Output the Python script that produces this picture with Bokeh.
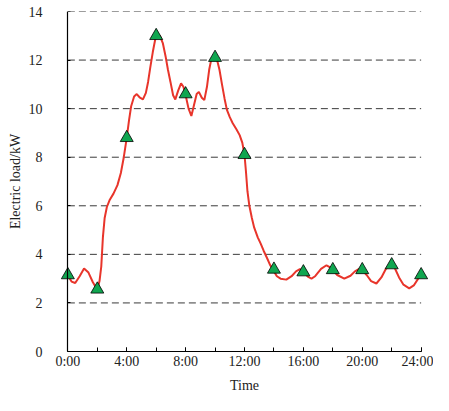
from bokeh.plotting import figure
from bokeh.models import FixedTicker, LinearAxis
from bokeh.embed import file_html
from bokeh.resources import INLINE

# Smooth load curve
hours_line = [0.0, 0.25, 0.5, 0.8, 1.1, 1.4, 1.7, 2.0, 2.15, 2.27, 2.38, 2.5, 2.65, 2.85, 3.1, 3.37,
              3.6, 3.8, 4.0, 4.15, 4.3, 4.5, 4.68, 4.9, 5.1, 5.3, 5.45, 5.6, 5.77, 5.95, 6.1, 6.25,
              6.45, 6.64, 6.8, 6.97, 7.15, 7.3, 7.5, 7.69, 7.85, 8.0, 8.2, 8.39, 8.55, 8.75, 8.9,
              9.1, 9.27, 9.45, 9.6, 9.75, 9.95, 10.1, 10.3, 10.47, 10.65, 10.8, 11.0, 11.2, 11.45,
              11.67, 11.85, 12.0, 12.1, 12.2, 12.33, 12.5, 12.66, 12.9, 13.1, 13.3, 13.53, 13.75,
              14.0, 14.2, 14.45, 14.84, 15.2, 15.5, 15.76, 16.0, 16.3, 16.55, 16.8, 17.2, 17.57,
              17.85, 18.0, 18.3, 18.78, 19.2, 19.5, 19.76, 20.0, 20.3, 20.6, 20.96, 21.3, 21.6,
              21.95, 22.2, 22.5, 22.8, 23.19, 23.5, 23.8, 24.0]
load_line = [3.13, 2.88, 2.82, 3.1, 3.42, 3.25, 2.85, 2.54, 2.9, 3.5, 4.7, 5.5, 5.95, 6.25, 6.5, 6.85,
             7.35, 8.0, 8.8, 9.5, 10.1, 10.5, 10.6, 10.45, 10.38, 10.65, 11.1, 11.7, 12.33, 12.9, 13.05, 13.0,
             12.7, 12.15, 11.6, 11.1, 10.55, 10.38, 10.75, 11.04, 10.9, 10.55, 10.0, 9.7, 10.1, 10.6, 10.69,
             10.45, 10.35, 10.9, 11.6, 12.05, 12.2, 12.1, 11.6, 11.0, 10.4, 9.96, 9.65, 9.4, 9.15,
             8.91, 8.6, 8.1, 7.4, 6.6, 6.0, 5.5, 5.1, 4.7, 4.44, 4.15, 3.85, 3.55,
             3.3, 3.1, 3.0, 2.96, 3.1, 3.3, 3.39, 3.3, 3.08, 3.0, 3.1, 3.4, 3.55,
             3.45, 3.35, 3.15, 3.0, 3.12, 3.3, 3.39, 3.35, 3.15, 2.9, 2.8, 3.05, 3.4,
             3.59, 3.45, 3.05, 2.75, 2.6, 2.72, 3.0, 3.13]

# Sampled points (triangles)
hours_mark = [0, 2, 4, 6, 8, 10, 12, 14, 16, 18, 20, 22, 24]
load_mark = [3.15, 2.56, 8.8, 13.0, 10.6, 12.1, 8.1, 3.38, 3.27, 3.36, 3.36, 3.56, 3.15]

x_tick_values = [0, 4, 8, 12, 16, 20, 24]
x_tick_labels = ["0:00", "4:00", "8:00", "12:00", "16:00", "20:00", "24:00"]
x_minor_values = [0, 2, 4, 6, 8, 10, 12, 14, 16, 18, 20, 22, 24]
y_tick_values = [0, 2, 4, 6, 8, 10, 12, 14]
grid_levels = [2, 4, 6, 8, 10, 12, 14]

FONT = "Liberation Serif"
FS = "14px"

p = figure(width=433, height=395, output_backend="svg", toolbar_location=None,
           x_range=(-0.5, 24.5), y_range=(0, 14),
           min_border_left=60, min_border_right=5, min_border_top=11, min_border_bottom=30)
p.outline_line_color = None
p.xgrid.visible = False
p.ygrid.visible = False
p.background_fill_color = "white"
p.border_fill_color = "white"

# dashed horizontal grid lines spanning the data extent
p.segment(x0=[x_tick_values[0]] * len(grid_levels), x1=[x_tick_values[-1]] * len(grid_levels),
          y0=grid_levels, y1=grid_levels, line_color="#3a3a3a", line_width=1, line_dash="7 4")

p.line(hours_line, load_line, line_color="#e8352b", line_width=2)
p.scatter(hours_mark, load_mark, marker="triangle", size=13,
          fill_color="#10a650", line_color="black", line_width=0.8)

xa = p.xaxis[0]
xa.bounds = (0, 24)
xa.ticker = FixedTicker(ticks=x_tick_values, minor_ticks=x_minor_values)
xa.major_label_overrides = {v: l for v, l in zip(x_tick_values, x_tick_labels)}
xa.major_tick_in = 4
xa.major_tick_out = 0
xa.minor_tick_in = 4
xa.minor_tick_out = 0
xa.major_label_standoff = 2
xa.axis_label = "Time"
xa.axis_label_standoff = 6
xa.axis_line_color = "black"
xa.axis_line_width = 1.2
xa.major_tick_line_color = "black"
xa.minor_tick_line_color = "black"

# y axis line and ticks placed at x = 0
ya = p.yaxis[0]
ya.fixed_location = 0
ya.bounds = (0, 14)
ya.ticker = FixedTicker(ticks=y_tick_values)
ya.major_tick_in = 3
ya.major_tick_out = 0
ya.minor_tick_in = 0
ya.minor_tick_out = 0
ya.major_label_text_alpha = 0
ya.axis_line_color = "black"
ya.axis_line_width = 1.2
ya.major_tick_line_color = "black"

# y tick labels and title
ylab = LinearAxis(ticker=FixedTicker(ticks=y_tick_values), axis_line_color=None,
                  major_tick_line_color=None, minor_tick_line_color=None,
                  major_label_standoff=12, axis_label="Electric load/kW", axis_label_standoff=3)
p.add_layout(ylab, "left")

for ax in (xa, ylab):
    ax.major_label_text_font = FONT
    ax.major_label_text_font_size = FS
    ax.major_label_text_color = "#222222"
    ax.axis_label_text_font = FONT
    ax.axis_label_text_font_size = FS
    ax.axis_label_text_font_style = "normal"
    ax.axis_label_text_color = "#222222"

open("out.html", "w").write(file_html(p, INLINE))
